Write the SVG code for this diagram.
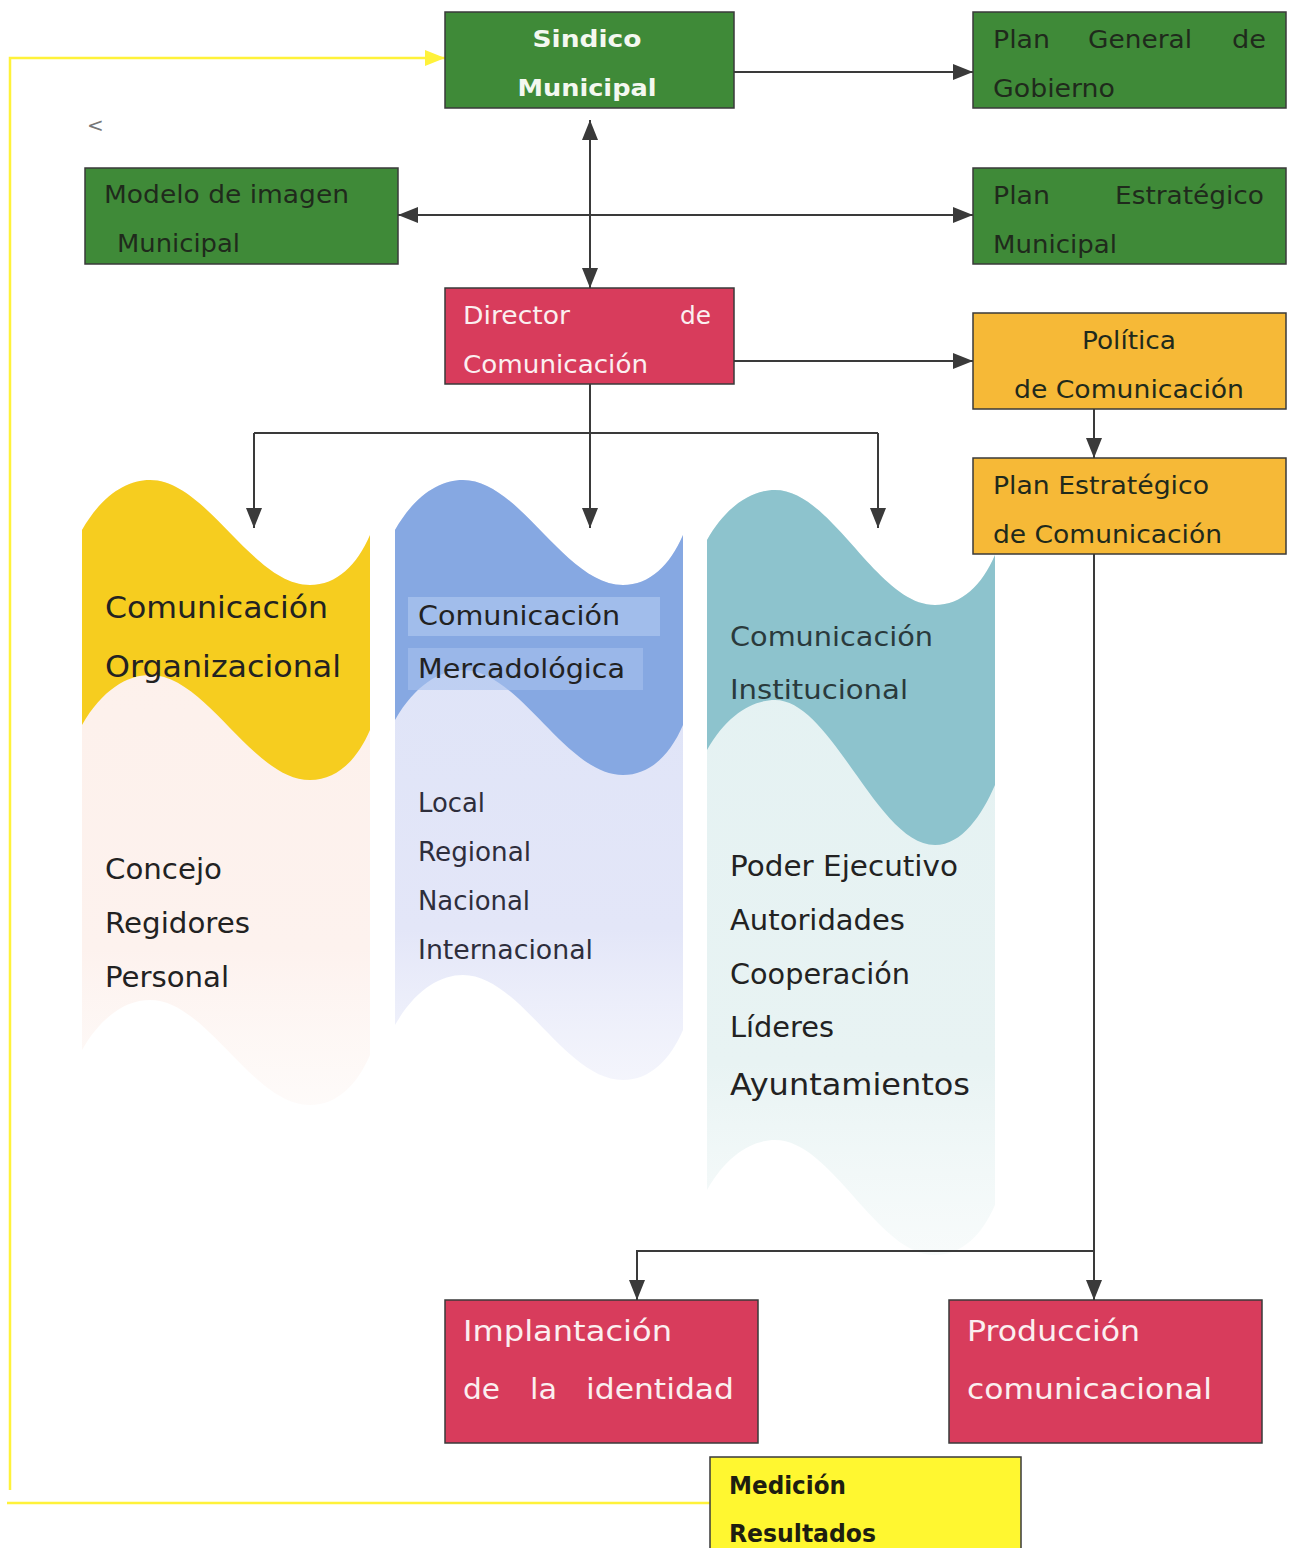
<svg xmlns="http://www.w3.org/2000/svg" width="1291" height="1548" viewBox="0 0 1291 1548">
<style>
.box{stroke:#3a3a3a;stroke-width:1.5}
.g{fill:#3f8a38}
.r{fill:#d83c5c}
.o{fill:#f6b937}
.y{fill:#fff730}
.t{font-family:"DejaVu Sans",Verdana,sans-serif}
.wt{fill:#fbeff0}
.dk{fill:#1f2a1c}
.ct{fill:#222}
.line{stroke:#3a3a3a;stroke-width:2;fill:none}
.yl{stroke:#fff23a;stroke-width:2.5;fill:none}
</style>
<defs>
<marker id="arr" viewBox="0 0 20 16" refX="20" refY="8" markerWidth="20" markerHeight="16" markerUnits="userSpaceOnUse" orient="auto-start-reverse">
<path d="M0,0 L20,8 L0,16 z" fill="#3a3a3a"/>
</marker>
<marker id="yarr" viewBox="0 0 20 16" refX="20" refY="8" markerWidth="20" markerHeight="16" markerUnits="userSpaceOnUse" orient="auto">
<path d="M0,0 L20,8 L0,16 z" fill="#fff23a"/>
</marker>
<linearGradient id="fadeP" x1="0" y1="0" x2="0" y2="1">
<stop offset="0" stop-color="#fdf0ea"/><stop offset="0.75" stop-color="#fdf2ee"/><stop offset="1" stop-color="#fdf6f3" stop-opacity="0.5"/>
</linearGradient>
<linearGradient id="fadeB" x1="0" y1="0" x2="0" y2="1">
<stop offset="0" stop-color="#dde3f7"/><stop offset="0.75" stop-color="#e3e6f8"/><stop offset="1" stop-color="#eceefa" stop-opacity="0.6"/>
</linearGradient>
<linearGradient id="fadeT" x1="0" y1="0" x2="0" y2="1">
<stop offset="0" stop-color="#e3f1f2"/><stop offset="0.75" stop-color="#e8f3f3"/><stop offset="1" stop-color="#f0f7f7" stop-opacity="0.5"/>
</linearGradient>
</defs>

<!-- wave columns -->
<g id="col-organizacional">
<path transform="translate(82,480)" fill="url(#fadeP)" d="M0,50 C20,15 45,0 68,0 C125,0 170,105 228,105 C255,105 275,85 288,55 L288,575 C275,605 255,625 228,625 C170,625 125,520 68,520 C45,520 20,535 0,570 Z"/>
<path transform="translate(82,480)" fill="#f6cd1f" d="M0,50 C20,15 45,0 68,0 C125,0 170,105 228,105 C255,105 275,85 288,55 L288,250 C275,280 255,300 228,300 C170,300 125,195 68,195 C45,195 20,210 0,245 Z"/>
<text class="t ct" x="105" y="618" font-size="30" textLength="223" lengthAdjust="spacingAndGlyphs">Comunicación</text>
<text class="t ct" x="105" y="677" font-size="30" textLength="236" lengthAdjust="spacingAndGlyphs">Organizacional</text>
<text class="t ct" x="105" y="879" font-size="28" textLength="117" lengthAdjust="spacingAndGlyphs">Concejo</text>
<text class="t ct" x="105" y="933" font-size="28" textLength="145" lengthAdjust="spacingAndGlyphs">Regidores</text>
<text class="t ct" x="105" y="987" font-size="28" textLength="124" lengthAdjust="spacingAndGlyphs">Personal</text>
</g>

<g id="col-mercadologica">
<path transform="translate(395,480)" fill="url(#fadeB)" d="M0,50 C20,15 45,0 68,0 C125,0 170,105 228,105 C255,105 275,85 288,55 L288,550 C275,580 255,600 228,600 C170,600 125,495 68,495 C45,495 20,510 0,545 Z"/>
<path transform="translate(395,480)" fill="#86a8e2" d="M0,50 C20,15 45,0 68,0 C125,0 170,105 228,105 C255,105 275,85 288,55 L288,245 C275,275 255,295 228,295 C170,295 125,190 68,190 C45,190 20,205 0,240 Z"/>
<rect x="408" y="597" width="252" height="39" fill="#a8c2ee" opacity="0.8"/>
<rect x="408" y="648" width="235" height="42" fill="#a8c2ee" opacity="0.6"/>
<text class="t ct" x="418" y="625" font-size="26" textLength="202" lengthAdjust="spacingAndGlyphs">Comunicación</text>
<text class="t ct" x="418" y="678" font-size="26" textLength="207" lengthAdjust="spacingAndGlyphs">Mercadológica</text>
<text class="t" fill="#2e2e3c" x="418" y="812" font-size="26" textLength="67" lengthAdjust="spacingAndGlyphs">Local</text>
<text class="t" fill="#2e2e3c" x="418" y="861" font-size="26" textLength="113" lengthAdjust="spacingAndGlyphs">Regional</text>
<text class="t" fill="#2e2e3c" x="418" y="910" font-size="26" textLength="112" lengthAdjust="spacingAndGlyphs">Nacional</text>
<text class="t" fill="#2e2e3c" x="418" y="959" font-size="26" textLength="175" lengthAdjust="spacingAndGlyphs">Internacional</text>
</g>

<g id="col-institucional">
<path transform="translate(707,490)" fill="url(#fadeT)" d="M0,50 C20,15 45,0 68,0 C125,0 170,115 228,115 C255,115 275,95 288,65 L288,715 C275,745 255,765 228,765 C170,765 125,650 68,650 C45,650 20,665 0,700 Z"/>
<path transform="translate(707,490)" fill="#8dc3cd" d="M0,50 C20,15 45,0 68,0 C125,0 170,115 228,115 C255,115 275,95 288,65 L288,295 C275,325 255,355 228,355 C170,355 125,210 68,210 C45,210 20,225 0,260 Z"/>
<text class="t" fill="#2a3a3c" x="730" y="646" font-size="27" textLength="203" lengthAdjust="spacingAndGlyphs">Comunicación</text>
<text class="t" fill="#2a3a3c" x="730" y="699" font-size="27" textLength="178" lengthAdjust="spacingAndGlyphs">Institucional</text>
<text class="t ct" x="730" y="876" font-size="28" textLength="228" lengthAdjust="spacingAndGlyphs">Poder Ejecutivo</text>
<text class="t ct" x="730" y="930" font-size="28" textLength="175" lengthAdjust="spacingAndGlyphs">Autoridades</text>
<text class="t ct" x="730" y="984" font-size="28" textLength="180" lengthAdjust="spacingAndGlyphs">Cooperación</text>
<text class="t ct" x="730" y="1037" font-size="28" textLength="104" lengthAdjust="spacingAndGlyphs">Líderes</text>
<text class="t ct" x="730" y="1095" font-size="30" textLength="240" lengthAdjust="spacingAndGlyphs">Ayuntamientos</text>
</g>

<!-- connectors -->
<g id="connectors">
<path class="line" d="M734,72 H973" marker-end="url(#arr)"/>
<path class="line" d="M590,120 V288" marker-start="url(#arr)" marker-end="url(#arr)"/>
<path class="line" d="M398,215 H973" marker-start="url(#arr)" marker-end="url(#arr)"/>
<path class="line" d="M734,361 H973" marker-end="url(#arr)"/>
<path class="line" d="M1094,409 V458" marker-end="url(#arr)"/>
<path class="line" d="M590,384 V528" marker-end="url(#arr)"/>
<path class="line" d="M254,433 H878"/>
<path class="line" d="M254,433 V528" marker-end="url(#arr)"/>
<path class="line" d="M878,433 V528" marker-end="url(#arr)"/>
<path class="line" d="M1094,554 V1300" marker-end="url(#arr)"/>
<path class="line" d="M1094,1251 H637 V1300" marker-end="url(#arr)"/>
<path class="yl" d="M710,1503 H7"/>
<path class="yl" d="M10,1490 V58 H445" marker-end="url(#yarr)"/>
</g>

<text class="t" fill="#777" x="87" y="132" font-size="20">&lt;</text>

<!-- nodes -->
<g id="sindico">
<rect class="box g" x="445" y="12" width="289" height="96"/>
<text class="t" fill="#f4f8f0" font-weight="bold" x="587" y="47" font-size="23" text-anchor="middle" textLength="109" lengthAdjust="spacingAndGlyphs">Sindico</text>
<text class="t" fill="#f4f8f0" font-weight="bold" x="587" y="96" font-size="23" text-anchor="middle" textLength="139" lengthAdjust="spacingAndGlyphs">Municipal</text>
</g>
<g id="plan-general">
<rect class="box g" x="973" y="12" width="313" height="96"/>
<text class="t dk" x="993" y="48" font-size="24" textLength="57" lengthAdjust="spacingAndGlyphs">Plan</text>
<text class="t dk" x="1088" y="48" font-size="24" textLength="104" lengthAdjust="spacingAndGlyphs">General</text>
<text class="t dk" x="1232" y="48" font-size="24" textLength="34" lengthAdjust="spacingAndGlyphs">de</text>
<text class="t dk" x="993" y="97" font-size="24" textLength="122" lengthAdjust="spacingAndGlyphs">Gobierno</text>
</g>
<g id="modelo-imagen">
<rect class="box g" x="85" y="168" width="313" height="96"/>
<text class="t dk" x="104" y="203" font-size="24" textLength="245" lengthAdjust="spacingAndGlyphs">Modelo de imagen</text>
<text class="t dk" x="117" y="252" font-size="24" textLength="123" lengthAdjust="spacingAndGlyphs">Municipal</text>
</g>
<g id="plan-estrategico-municipal">
<rect class="box g" x="973" y="168" width="313" height="96"/>
<text class="t dk" x="993" y="204" font-size="24" textLength="57" lengthAdjust="spacingAndGlyphs">Plan</text>
<text class="t dk" x="1115" y="204" font-size="24" textLength="149" lengthAdjust="spacingAndGlyphs">Estratégico</text>
<text class="t dk" x="993" y="253" font-size="24" textLength="124" lengthAdjust="spacingAndGlyphs">Municipal</text>
</g>
<g id="director">
<rect class="box r" x="445" y="288" width="289" height="96"/>
<text class="t wt" x="463" y="324" font-size="24" textLength="107" lengthAdjust="spacingAndGlyphs">Director</text>
<text class="t wt" x="680" y="324" font-size="24" textLength="31" lengthAdjust="spacingAndGlyphs">de</text>
<text class="t wt" x="463" y="373" font-size="24" textLength="185" lengthAdjust="spacingAndGlyphs">Comunicación</text>
</g>
<g id="politica">
<rect class="box o" x="973" y="313" width="313" height="96"/>
<text class="t dk" x="1129" y="349" font-size="24" text-anchor="middle" textLength="94" lengthAdjust="spacingAndGlyphs">Política</text>
<text class="t dk" x="1129" y="398" font-size="24" text-anchor="middle" textLength="230" lengthAdjust="spacingAndGlyphs">de Comunicación</text>
</g>
<g id="plan-estrategico-comunicacion">
<rect class="box o" x="973" y="458" width="313" height="96"/>
<text class="t dk" x="993" y="494" font-size="24" textLength="216" lengthAdjust="spacingAndGlyphs">Plan Estratégico</text>
<text class="t dk" x="993" y="543" font-size="24" textLength="229" lengthAdjust="spacingAndGlyphs">de Comunicación</text>
</g>
<g id="implantacion">
<rect class="box r" x="445" y="1300" width="313" height="143"/>
<text class="t wt" x="463" y="1341" font-size="29" textLength="209" lengthAdjust="spacingAndGlyphs">Implantación</text>
<text class="t wt" x="463" y="1399" font-size="29" textLength="37" lengthAdjust="spacingAndGlyphs">de</text>
<text class="t wt" x="530" y="1399" font-size="29" textLength="27" lengthAdjust="spacingAndGlyphs">la</text>
<text class="t wt" x="586" y="1399" font-size="29" textLength="148" lengthAdjust="spacingAndGlyphs">identidad</text>
</g>
<g id="produccion">
<rect class="box r" x="949" y="1300" width="313" height="143"/>
<text class="t wt" x="967" y="1341" font-size="29" textLength="173" lengthAdjust="spacingAndGlyphs">Producción</text>
<text class="t wt" x="967" y="1399" font-size="29" textLength="245" lengthAdjust="spacingAndGlyphs">comunicacional</text>
</g>
<g id="medicion">
<rect class="box y" x="710" y="1457" width="311" height="100"/>
<text class="t" fill="#1e1e10" font-weight="bold" x="729" y="1494" font-size="24" textLength="117" lengthAdjust="spacingAndGlyphs">Medición</text>
<text class="t" fill="#1e1e10" font-weight="bold" x="729" y="1542" font-size="24" textLength="147" lengthAdjust="spacingAndGlyphs">Resultados</text>
</g>
</svg>
